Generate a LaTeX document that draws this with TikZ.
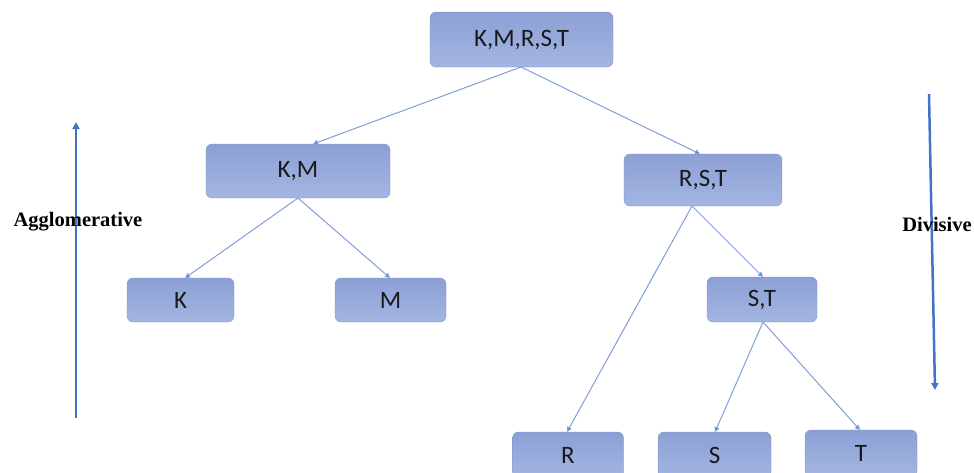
\documentclass[tikz,border=0pt]{standalone}
\usepackage{fontspec}
\setmainfont{Carlito}
\newfontfamily\serifb{Liberation Serif}
\usetikzlibrary{arrows.meta}
\definecolor{boxtop}{RGB}{140,160,213}
\definecolor{boxbot}{RGB}{163,181,225}
\definecolor{edgec}{RGB}{128,158,216}
\definecolor{arrc}{RGB}{68,114,196}
\begin{document}
\begin{tikzpicture}[x=1pt,y=-1pt,
  cbox/.style={rounded corners=6pt, top color=boxtop, bottom color=boxbot, draw=boxtop!90!black, line width=0.3pt, inner sep=0pt, font=\fontsize{25}{27}\selectfont, text=black!90},
  edge/.style={draw=edgec, line width=1pt, -{Triangle[length=5pt,width=5pt,fill=arrc]}},
  side/.style={draw=arrc, line width=2.5pt, -{Triangle[length=7pt,width=7pt]}},
  lab/.style={font=\serifb\bfseries\fontsize{20.5}{22}\selectfont}]
\useasboundingbox (0,0) rectangle (974,472);
\node[cbox, minimum width=183pt, minimum height=55pt] (root) at (521.5,39.5) {K,M,R,S,T};
\node[cbox, minimum width=184pt, minimum height=54pt] (km) at (298,171) {K,M};
\node[cbox, minimum width=158pt, minimum height=52pt] (rst) at (703,180) {R,S,T};
\node[cbox, minimum width=107pt, minimum height=44pt] (k) at (180.5,300) {K};
\node[cbox, minimum width=111pt, minimum height=44pt] (m) at (390.5,300) {M};
\node[cbox, minimum width=110pt, minimum height=45pt] (st) at (762,299.5) {S,T};
\node[cbox, minimum width=111pt, minimum height=46pt] (r) at (568,455) {R};
\node[cbox, minimum width=113pt, minimum height=46pt] (s) at (714.5,455) {S};
\node[cbox, minimum width=112pt, minimum height=46pt] (t) at (861,453) {T};
\coordinate (rootb) at (521,67);
\coordinate (kmt) at (313,144);
\coordinate (rstt) at (700,154);
\coordinate (kmb) at (298,198);
\coordinate (kt) at (185,278);
\coordinate (mt) at (390,278);
\coordinate (rstb) at (692,206);
\coordinate (rt) at (567,432);
\coordinate (stt) at (763,277);
\coordinate (stb) at (763,322);
\coordinate (sst) at (715,432);
\coordinate (tt) at (860,430);
\draw[edge] (rootb) -- (kmt);
\draw[edge] (rootb) -- (rstt);
\draw[edge] (kmb) -- (kt);
\draw[edge] (kmb) -- (mt);
\draw[edge] (rstb) -- (rt);
\draw[edge] (rstb) -- (stt);
\draw[edge] (stb) -- (sst);
\draw[edge] (stb) -- (tt);
\coordinate (a1) at (76,418);
\coordinate (a2) at (76,122);
\coordinate (d1) at (929,94);
\coordinate (d2) at (935,390);
\draw[side] (a1) -- (a2);
\draw[side] (d1) -- (d2);
\node[lab] (agg) at (78,222) {Agglomerative};
\node[lab] (div) at (937,224) {Divisive};
\end{tikzpicture}
\end{document}
